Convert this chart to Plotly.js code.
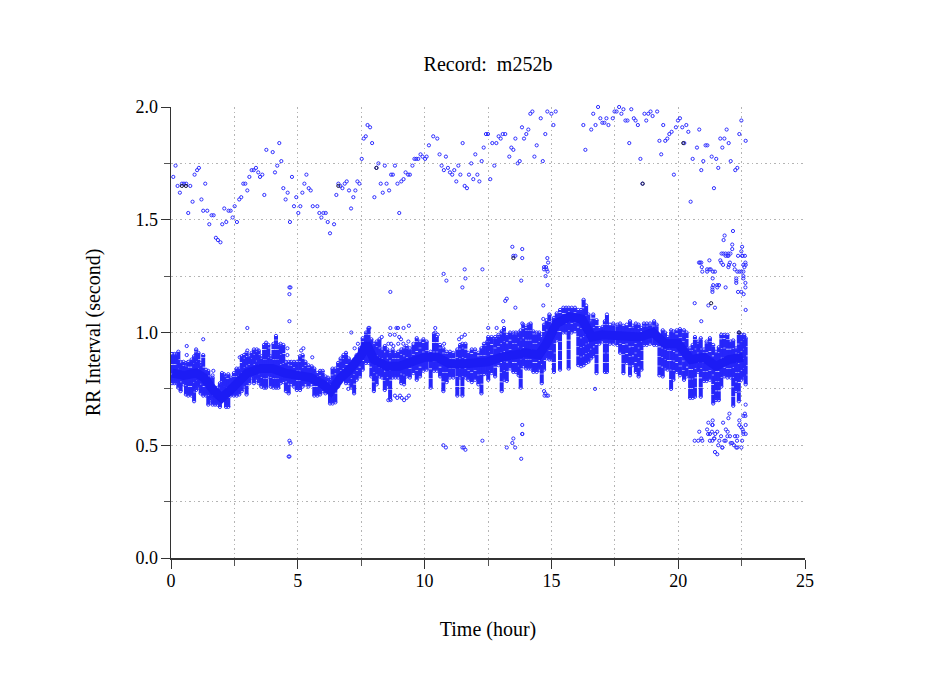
<!DOCTYPE html>
<html><head><meta charset="utf-8">
<script src="https://cdn.plot.ly/plotly-3.0.1.min.js"></script>
<style>html,body{margin:0;padding:0;background:#fff}</style></head>
<body><div id="chart" style="width:949px;height:697px"></div>
<script>
// Sparse beats, as [hour, RR second] column pairs
const upperHours=[0.09,0.18,0.26,0.35,0.43,0.51,0.60,0.68,0.76,0.85,0.93,1.03,1.10,1.20,1.27,1.35,1.43,1.51,1.60,1.68,1.77,1.85,1.95,2.02,2.10,2.18,2.27,2.35,2.43,2.51,2.60,2.69,2.77,2.85,2.93,3.01,3.09,3.18,3.26,3.35,3.44,3.51,3.60,3.68,3.76,4.01,4.10,4.19,4.27,4.35,4.43,4.52,4.60,4.69,4.77,4.85,4.94,5.02,5.10,5.18,5.26,5.34,5.43,5.51,5.59,5.77,5.85,5.93,6.01,6.10,6.18,6.27,6.43,6.52,6.60,6.68,6.76,6.85,6.93,7.02,7.10,7.19,7.27,7.35,7.43,7.52,7.60,7.68,7.75,7.85,7.93,8.02,8.10,8.18,8.27,8.35,8.43,8.50,8.60,8.68,8.75,8.83,8.93,9.00,9.08,9.17,9.25,9.35,9.42,9.52,9.60,9.67,9.75,9.84,9.92,10.02,10.08,10.17,10.34,10.50,10.59,10.67,10.76,10.84,10.92,11.00,11.09,11.17,11.25,11.33,11.41,11.50,11.58,11.67,11.75,11.84,11.92,12.00,12.08,12.16,12.25,12.33,12.42,12.50,12.59,12.75,12.67,12.83,12.92,13.00,13.08,13.18,13.34,13.42,13.50,13.58,13.67,13.75,13.84,13.92,14.01,14.09,14.17,14.25,14.33,14.42,14.58,14.66,14.76,14.84,15.00,15.08,15.17,16.26,16.34,16.57,16.65,16.74,16.84,16.93,17.01,17.09,17.17,17.25,17.42,17.49,17.57,17.67,17.76,17.84,17.92,18.00,18.07,18.15,18.25,18.32,18.41,18.51,18.59,18.67,18.74,18.82,18.91,18.99,19.17,19.26,19.33,19.41,19.49,19.57,19.65,19.74,19.83,19.91,19.99,20.07,20.16,20.24,20.32,20.40,20.49,20.57,20.74,20.83,20.91,20.99,21.08,21.15,21.32,21.41,21.50,21.58,21.66,21.74,21.82,21.91,21.99,22.07,22.25,22.33,22.41,22.49,22.66];
const upperRR=[1.69,1.74,1.65,1.62,1.66,1.66,1.66,1.53,1.65,1.58,1.70,1.72,1.73,1.59,1.54,1.66,1.54,1.48,1.52,1.52,1.42,1.41,1.40,1.48,1.55,1.49,1.54,1.54,1.51,1.56,1.49,1.59,1.60,1.66,1.66,1.63,1.69,1.72,1.72,1.73,1.71,1.69,1.70,1.61,1.81,1.80,1.71,1.74,1.84,1.76,1.64,1.59,1.62,1.49,1.69,1.56,1.60,1.53,1.56,1.62,1.66,1.70,1.64,1.63,1.56,1.56,1.53,1.51,1.53,1.53,1.49,1.44,1.48,1.61,1.66,1.65,1.64,1.66,1.67,1.63,1.55,1.60,1.63,1.67,1.66,1.77,1.86,1.87,1.92,1.91,1.84,1.60,1.73,1.75,1.66,1.62,1.74,1.66,1.63,1.70,1.70,1.74,1.66,1.53,1.67,1.68,1.71,1.70,1.70,1.74,1.77,1.77,1.77,1.79,1.78,1.77,1.78,1.83,1.87,1.86,1.79,1.74,1.72,1.78,1.73,1.71,1.70,1.72,1.67,1.74,1.70,1.84,1.65,1.64,1.70,1.75,1.68,1.79,1.70,1.67,1.76,1.82,1.88,1.88,1.68,1.74,1.84,1.84,1.87,1.86,1.88,1.88,1.78,1.82,1.81,1.86,1.75,1.76,1.91,1.86,1.88,1.90,1.97,1.98,1.78,1.83,1.95,1.76,1.88,1.98,1.97,1.92,1.98,1.92,1.81,1.90,1.97,1.92,2.00,1.95,1.93,1.93,1.95,1.92,1.95,1.98,1.98,2.00,1.97,1.99,1.94,1.94,1.84,1.99,1.95,1.94,1.92,1.77,1.66,1.97,1.94,1.97,1.98,1.96,1.98,1.85,1.79,1.92,1.85,1.86,1.88,1.89,1.70,1.91,1.94,1.95,1.91,1.84,1.92,1.89,1.58,1.77,1.82,1.90,1.72,1.76,1.83,1.83,1.78,1.64,1.77,1.73,1.86,1.82,1.86,1.90,1.84,1.76,1.72,1.73,1.88,1.94,1.85];

const midHours=[10.75,10.86,11.49,11.58,11.61,12.28,8.65,4.67,4.71,4.67,4.67,3.01,7.82,8.65,8.89,8.95,9.17,9.38,10.42,12.51,13.46,13.50,13.58,13.85,13.85,14.84,14.87,14.71,14.79,14.71,14.81,14.85,14.77,14.85,13.81,13.24,13.18,13.58,14.68,14.68,13.10,12.84,13.85,20.82,20.86,20.91,20.93,20.95,21.14,21.14,21.23,21.28,21.23,21.37,21.45,21.66,21.70,21.77,21.98,22.00,22.04,22.21,22.23,22.33,22.41,22.49,22.57,22.61,22.57,22.65,22.66,21.79,21.83,22.16,22.13,22.13,21.71,21.78,21.87,21.98,22.06,21.87,21.95,21.98,22.36,22.52,22.49,22.52,22.54,22.63,21.36,21.38,21.54,21.54,21.61,21.35,21.35,21.35,21.87,22.29,22.29,22.29,22.36,22.49,22.57,22.57,22.65,22.65,22.58,20.65,21.19,21.45,22.66,20.91];
const midRR=[1.26,1.23,1.20,1.28,1.24,1.28,1.18,1.20,1.20,1.17,1.05,1.02,1.02,1.02,1.02,1.02,1.02,1.03,1.02,1.02,1.38,1.34,1.34,1.37,1.33,1.33,1.31,1.29,1.29,1.28,1.28,1.27,1.25,1.21,1.23,1.15,1.14,1.11,1.12,1.06,1.05,1.02,1.04,1.31,1.31,1.31,1.29,1.27,1.28,1.27,1.28,1.28,1.32,1.27,1.27,1.32,1.31,1.30,1.29,1.30,1.31,1.30,1.28,1.27,1.27,1.27,1.27,1.29,1.30,1.31,1.30,1.41,1.43,1.45,1.39,1.37,1.35,1.35,1.35,1.35,1.35,1.34,1.34,1.34,1.34,1.38,1.36,1.34,1.34,1.34,1.24,1.21,1.21,1.20,1.21,1.20,1.19,1.18,1.20,1.24,1.23,1.22,1.18,1.18,1.25,1.24,1.22,1.20,1.17,1.13,1.12,1.11,1.10,1.05];

const lowHours=[12.28,13.24,13.46,13.50,13.57,13.81,13.85,13.85,13.85,16.72,20.65,20.79,20.83,20.91,20.95,21.14,21.19,21.18,21.25,21.33,21.35,21.35,21.36,21.25,21.35,21.41,21.43,21.54,21.46,21.69,21.77,21.62,21.58,21.74,21.74,21.82,21.87,21.88,21.95,21.98,22.02,21.94,22.04,22.07,22.13,22.20,22.24,22.33,22.32,22.29,22.33,22.41,22.41,22.48,22.49,22.52,22.54,22.57,22.63,22.65,22.57,22.57,22.66,22.66,22.66,21.45,21.54,14.71,14.76,14.81,14.87,14.73,4.67,4.71,4.64,4.67,10.74,10.84,11.49,11.55,11.61,8.83,8.92,9.03,9.10,9.19,9.29,9.38,8.57,8.66];
const lowRR=[0.52,0.49,0.51,0.53,0.49,0.44,0.59,0.55,0.55,0.75,0.52,0.52,0.56,0.53,0.52,0.57,0.60,0.55,0.55,0.56,0.59,0.59,0.61,0.52,0.52,0.53,0.53,0.56,0.55,0.54,0.60,0.52,0.50,0.49,0.49,0.52,0.52,0.57,0.56,0.62,0.64,0.54,0.54,0.51,0.51,0.50,0.54,0.54,0.52,0.49,0.49,0.61,0.59,0.58,0.49,0.52,0.57,0.63,0.64,0.63,0.56,0.55,0.55,0.59,0.68,0.47,0.46,0.74,0.73,0.72,0.72,0.72,0.52,0.51,0.45,0.45,0.50,0.49,0.49,0.49,0.48,0.72,0.71,0.72,0.71,0.70,0.71,0.72,0.70,0.70];

const nearHours=[1.27,0.62,0.62,7.11,2.71,3.01,4.59,4.59,5.13,5.22,5.57,1.67,1.64,6.99,7.24,7.37,8.31,8.64,8.82,9.00,9.07,8.57,8.68,8.77,9.16,9.36,8.96,10.77,11.59,11.46,11.36,10.42,10.52];
const nearRR=[0.97,0.94,0.90,1.00,0.89,0.92,0.93,0.90,0.92,0.93,0.89,0.83,0.81,0.75,0.93,0.95,0.98,0.99,0.99,0.98,0.97,0.95,0.95,0.94,0.95,0.96,0.95,0.95,0.99,0.98,0.97,1.00,0.99];

const blackHours=[0.43,0.59,8.10,13.50,18.60,20.20,22.40,21.30,6.60];
const blackRR=[1.65,1.65,1.73,1.33,1.66,1.84,1.00,1.13,1.65];

// Dense normal-beat band: range of RR read per time column
const bandHours=[0.04,0.13,0.22,0.29,0.38,0.49,0.59,0.68,0.81,0.91,0.99,1.08,1.17,1.27,1.38,1.47,1.56,1.64,1.74,1.83,1.93,2.01,2.09,2.17,2.26,2.35,2.48,2.59,2.69,2.79,2.88,2.98,3.09,3.18,3.27,3.38,3.46,3.56,3.67,3.75,3.84,3.93,4.04,4.14,4.23,4.32,4.43,4.53,4.64,4.74,4.85,4.96,5.09,5.19,5.30,5.42,5.55,5.65,5.77,5.88,5.98,6.09,6.19,6.27,6.37,6.48,6.59,6.69,6.80,6.90,7.01,7.11,7.22,7.32,7.45,7.56,7.69,7.79,7.90,8.00,8.11,8.22,8.32,8.43,8.53,8.64,8.74,8.85,8.96,9.08,9.19,9.29,9.42,9.56,9.69,9.82,9.95,10.08,10.24,10.37,10.48,10.61,10.74,10.87,11.00,11.13,11.29,11.40,11.49,11.61,11.72,11.86,11.99,12.12,12.24,12.34,12.47,12.51,12.64,12.78,12.91,13.04,13.13,13.24,13.37,13.50,13.60,13.71,13.79,13.89,14.00,14.10,14.18,14.29,14.42,14.52,14.62,14.71,14.81,14.92,15.01,15.10,15.21,15.34,15.47,15.58,15.68,15.80,15.93,16.06,16.17,16.27,16.37,16.46,16.56,16.65,16.78,16.89,17.02,17.11,17.19,17.31,17.44,17.60,17.71,17.84,17.97,18.10,18.20,18.33,18.44,18.55,18.65,18.76,18.89,19.05,19.15,19.26,19.39,19.48,19.58,19.72,19.81,19.94,20.07,20.23,20.33,20.47,20.57,20.66,20.79,20.89,21.02,21.12,21.25,21.38,21.49,21.60,21.70,21.81,21.94,22.07,22.17,22.28,22.39,22.49,22.60,22.66];
const bandHigh=[.905,.905,.905,.915,.87,.87,.865,.87,.88,.895,.925,.91,.865,.90,.835,.83,.80,.80,.755,.755,.775,.82,.815,.805,.815,.80,.82,.84,.84,.895,.90,.91,.895,.91,.925,.925,.92,.895,.945,.955,.945,.895,.95,.985,.945,.95,.945,.87,.87,.87,.87,.87,.895,.90,.87,.855,.85,.84,.82,.83,.83,.805,.80,.79,.84,.84,.865,.885,.90,.91,.885,.87,.88,.90,.93,.975,1.00,1.02,.97,.95,.96,.97,.925,.94,.925,.91,.925,.91,.915,.925,.93,.94,.93,.95,.975,.96,.97,.96,.915,.995,.98,.945,.93,.915,.915,.91,.925,.945,.95,.95,.91,.925,.925,.91,.93,.95,.96,.98,.98,.98,.99,1.005,1.02,.99,1.0,1.0,1.0,1.0,1.01,1.035,1.02,1.035,1.04,1.005,1.0,1.0,.98,1.035,1.055,1.08,1.04,1.065,1.085,1.10,1.11,1.11,1.11,1.11,1.11,1.10,1.10,1.145,1.12,1.08,1.05,1.08,1.055,1.02,1.025,1.05,1.08,1.035,1.04,1.035,1.04,1.03,1.035,1.05,1.03,1.04,1.035,1.02,1.04,1.04,1.04,1.05,1.035,.975,1.01,1.0,.98,1.01,1.005,1.01,1.015,1.01,1.0,.93,.945,.98,.96,.975,.925,.96,.975,.945,.915,.935,.99,.99,.99,.96,.965,.93,1.0,.99,.99,.975];
const bandLow=[.775,.775,.775,.755,.74,.77,.725,.72,.72,.695,.745,.755,.73,.72,.72,.68,.70,.68,.68,.68,.67,.70,.72,.67,.67,.72,.72,.72,.725,.74,.76,.725,.775,.80,.775,.79,.775,.76,.755,.755,.805,.76,.755,.755,.755,.775,.78,.74,.73,.77,.76,.745,.745,.76,.77,.76,.77,.72,.72,.725,.74,.73,.74,.685,.685,.69,.76,.79,.80,.775,.775,.755,.73,.79,.805,.835,.865,.865,.805,.74,.77,.805,.80,.745,.76,.705,.80,.80,.80,.775,.77,.805,.80,.82,.79,.805,.83,.835,.755,.83,.83,.805,.74,.78,.80,.80,.72,.80,.72,.80,.79,.78,.79,.77,.73,.815,.815,.79,.82,.805,.855,.74,.79,.785,.84,.825,.825,.81,.755,.85,.84,.84,.84,.825,.825,.835,.775,.835,.885,.88,.88,.825,.965,.835,1.0,1.0,.84,1.0,1.005,.855,.85,.855,.865,.87,.885,.895,.82,.95,.96,.825,.825,.95,.95,.945,.91,.82,.865,.81,.855,.825,.805,.835,.945,.945,.95,.945,.945,.81,.805,.84,.835,.75,.79,.825,.81,.79,.805,.71,.71,.715,.825,.715,.785,.785,.79,.685,.70,.70,.76,.805,.80,.80,.675,.74,.695,.79,.80,.77];

// Centre of the most crowded part of the band
const coreHours=[0.05,0.5,1,1.3,1.7,2,2.3,2.7,3,3.5,4,4.5,5,5.5,6,6.3,6.7,7,7.5,7.7,8,8.5,9,9.5,10,10.5,11,11.5,12,12.5,13,13.5,14,14.5,14.8,15.2,15.7,16.2,16.6,17,17.5,18,18.5,19,19.5,20,20.5,21,21.5,22,22.55];
const coreRR=[.82,.81,.82,.80,.74,.71,.74,.78,.82,.84,.84,.82,.81,.80,.77,.74,.80,.83,.90,.95,.88,.85,.85,.87,.89,.89,.86,.86,.86,.87,.89,.90,.91,.90,.95,1.04,1.07,1.06,.98,.99,.99,.98,.98,1.0,.95,.95,.88,.89,.85,.88,.89];

const xTitle='Time (hour)', yTitle='RR Interval (second)', chartTitle='Record:\u00a0\u00a0m252b';
const serif='"Liberation Serif","Times New Roman",serif';

// Vertical strokes for the band, gaps between columns
const segX=[], segY=[];
bandHours.forEach((h,i)=>{segX.push(h,h,null);segY.push(bandLow[i],bandHigh[i],null);});

const ring=c=>({symbol:'circle-open',size:3.2,line:{width:1,color:c},color:c});
const blue='rgb(45,45,255)';
const data=[
 {x:segX,y:segY,mode:'lines',type:'scatter',line:{color:'rgb(38,38,250)',width:4,dash:'9px,0.6px'},hoverinfo:'skip',showlegend:false,cliponaxis:false},
 {x:bandHours.concat(bandHours),y:bandHigh.concat(bandLow),mode:'markers',type:'scatter',marker:ring(blue),hoverinfo:'skip',showlegend:false,cliponaxis:false},
 {x:coreHours,y:coreRR,mode:'lines',type:'scatter',line:{color:'rgb(28,28,245)',width:9},hoverinfo:'skip',showlegend:false,cliponaxis:false},
 {x:upperHours,y:upperRR,mode:'markers',type:'scatter',marker:ring(blue),cliponaxis:false,showlegend:false},
 {x:midHours,y:midRR,mode:'markers',type:'scatter',marker:ring(blue),cliponaxis:false,showlegend:false},
 {x:lowHours,y:lowRR,mode:'markers',type:'scatter',marker:ring(blue),cliponaxis:false,showlegend:false},
 {x:nearHours,y:nearRR,mode:'markers',type:'scatter',marker:ring(blue),cliponaxis:false,showlegend:false},
 {x:blackHours,y:blackRR,mode:'markers',type:'scatter',marker:ring('rgb(30,30,60)'),cliponaxis:false,showlegend:false}
];
const gridCol='rgb(180,180,180)', gridDash='1.5px,3px';
const grid={showgrid:true,gridcolor:gridCol,griddash:gridDash,gridwidth:1,zeroline:false};
const minorOpts=d=>({dtick:d,ticks:'outside',ticklen:6,tickcolor:'#555',showgrid:true,gridcolor:gridCol,griddash:gridDash,gridwidth:1});
const layout={
 width:949,height:697,paper_bgcolor:'#fff',plot_bgcolor:'#fff',
 margin:{l:171,r:144,t:107,b:138.5,pad:0},
 font:{family:serif,size:18,color:'#000'},
 title:{text:chartTitle,x:488/949,xanchor:'center',y:1-64/697,yanchor:'middle',font:{family:serif,size:20,color:'#000'}},
 xaxis:Object.assign({},grid,{range:[0,25],dtick:5,tick0:0,ticks:'outside',ticklen:9,tickwidth:1,tickcolor:'#333',showline:true,linecolor:'#333',linewidth:1.5,ticklabelstandoff:-3,tickfont:{family:serif,size:18},
  minor:minorOpts(2.5),title:{text:xTitle,standoff:32,font:{family:serif,size:20}}}),
 yaxis:Object.assign({},grid,{range:[0,2],dtick:0.5,tick0:0,tickformat:'.1f',ticks:'outside',ticklen:9,tickwidth:1,tickcolor:'#333',showline:true,linecolor:'#333',linewidth:1.5,ticklabelstandoff:-1,tickfont:{family:serif,size:18},
  minor:minorOpts(0.25),title:{text:yTitle,standoff:29,font:{family:serif,size:20}}})
};
Plotly.newPlot('chart',data,layout,{displayModeBar:false,staticPlot:true});
</script></body></html>
